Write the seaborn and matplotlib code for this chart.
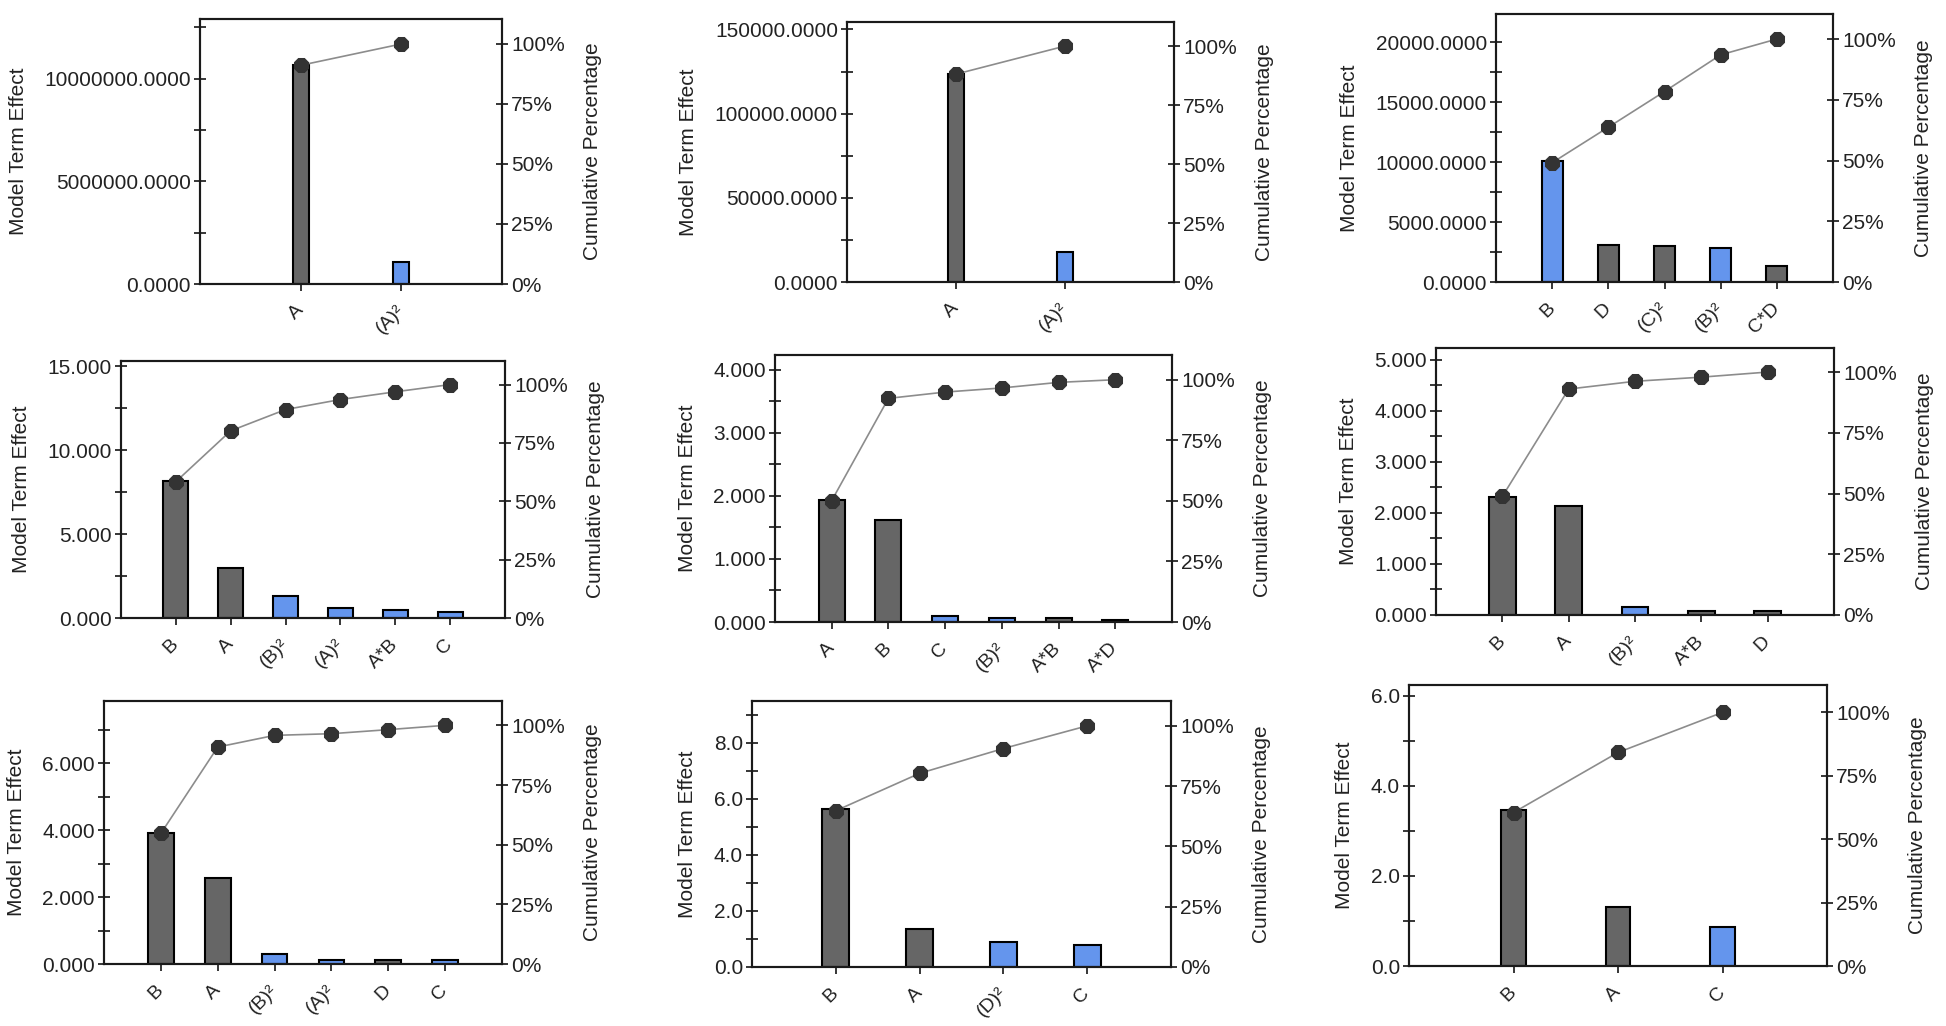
import numpy as np
import matplotlib
matplotlib.use("Agg")
import matplotlib.pyplot as plt
from matplotlib.ticker import MultipleLocator, FormatStrFormatter
import seaborn as sns

# values (bar = model term effect, dot = cumulative %)
terms_1 = ["A", "(A)²"]
effect_1 = [10680000, 1070000]
cum_1 = [91.1, 100]
shade_1 = ["grey", "blue"]

terms_2 = ["A", "(A)²"]
effect_2 = [123500, 17800]
cum_2 = [88.1, 100]
shade_2 = ["grey", "blue"]

terms_3 = ["B", "D", "(C)²", "(B)²", "C*D"]
effect_3 = [10070, 3120, 2985, 2845, 1340]
cum_3 = [49.1, 63.7, 78.4, 93.5, 100]
shade_3 = ["blue", "grey", "grey", "blue", "grey"]

terms_4 = ["B", "A", "(B)²", "(A)²", "A*B", "C"]
effect_4 = [8.18, 3.01, 1.29, 0.59, 0.48, 0.34]
cum_4 = [58.4, 80.2, 89.3, 93.6, 96.9, 100]
shade_4 = ["grey", "grey", "blue", "blue", "blue", "blue"]

terms_5 = ["A", "B", "C", "(B)²", "A*B", "A*D"]
effect_5 = [1.94, 1.62, 0.095, 0.07, 0.07, 0.035]
cum_5 = [50.1, 92.3, 94.9, 96.6, 98.9, 100]
shade_5 = ["grey", "grey", "blue", "blue", "grey", "grey"]

terms_6 = ["B", "A", "(B)²", "A*B", "D"]
effect_6 = [2.32, 2.13, 0.157, 0.08, 0.08]
cum_6 = [48.8, 93.0, 96.2, 97.9, 100]
shade_6 = ["grey", "grey", "blue", "grey", "grey"]

terms_7 = ["B", "A", "(B)²", "(A)²", "D", "C"]
effect_7 = [3.93, 2.57, 0.30, 0.12, 0.12, 0.12]
cum_7 = [54.7, 90.9, 95.8, 96.5, 98.2, 100]
shade_7 = ["grey", "grey", "blue", "blue", "grey", "blue"]

terms_8 = ["B", "A", "(D)²", "C"]
effect_8 = [5.63, 1.35, 0.91, 0.77]
cum_8 = [64.8, 80.3, 90.6, 100]
shade_8 = ["grey", "grey", "blue", "blue"]

terms_9 = ["B", "A", "C"]
effect_9 = [3.46, 1.30, 0.87]
cum_9 = [60.5, 84.2, 100]
shade_9 = ["grey", "grey", "blue"]

sns.set_style("white")
plt.rcParams["font.family"] = ["Liberation Sans", "DejaVu Sans"]

GREY = "#666666"
BLUE = "#6495ED"
INK = "#222222"

W, H = 1946, 1026
# box in pixels (x0, y0, x1, y1), left ymax, right ymax, major, minor, format, bar width
panels = [
    (terms_1, effect_1, cum_1, shade_1, (200, 19, 502, 284), 12.9e6, 110.4, 5e6, 2.5e6, "%.4f", 0.16),
    (terms_2, effect_2, cum_2, shade_2, (847, 22, 1174, 282), 154400, 110.2, 50000, 25000, "%.4f", 0.15),
    (terms_3, effect_3, cum_3, shade_3, (1496, 14, 1833, 282), 22365, 110.3, 5000, 2500, "%.4f", 0.37),
    (terms_4, effect_4, cum_4, shade_4, (121, 361, 505, 618), 15.32, 110.1, 5, 2.5, "%.3f", 0.46),
    (terms_5, effect_5, cum_5, shade_5, (775, 355, 1172, 622), 4.23, 110.2, 1, 0.5, "%.3f", 0.46),
    (terms_6, effect_6, cum_6, shade_6, (1436, 348, 1834, 615), 5.23, 109.9, 1, 0.5, "%.3f", 0.40),
    (terms_7, effect_7, cum_7, shade_7, (104, 701, 502, 964), 7.87, 110.2, 2, 1, "%.3f", 0.45),
    (terms_8, effect_8, cum_8, shade_8, (752, 701, 1171, 967), 9.5, 110.3, 2, 1, "%.1f", 0.32),
    (terms_9, effect_9, cum_9, shade_9, (1409, 685, 1827, 966), 6.24, 110.8, 2, 1, "%.1f", 0.23),
]

fig = plt.figure(figsize=(W / 100, H / 100), dpi=100)

for terms, eff, cum, shade, box, ymax, rmax, major, minor, fmt, bw in panels:
    x0, y0, x1, y1 = box
    ax = fig.add_axes([x0 / W, 1 - y1 / H, (x1 - x0) / W, (y1 - y0) / H])
    pal = {t: (BLUE if s == "blue" else GREY) for t, s in zip(terms, shade)}
    sns.barplot(x=terms, y=eff, hue=terms, palette=pal, width=bw, saturation=1,
                edgecolor="black", linewidth=1.5, legend=False, ax=ax)
    n = len(terms)
    pos = np.arange(n)
    ax.set_xlim(-1, n)
    ax.set_ylim(0, ymax)
    ax.yaxis.set_major_locator(MultipleLocator(major))
    ax.yaxis.set_minor_locator(MultipleLocator(minor))
    ax.yaxis.set_major_formatter(FormatStrFormatter(fmt))
    ax.set_xticks(pos)
    ax.set_xticklabels(terms, rotation=45, ha="right", va="center",
                       rotation_mode="anchor", fontsize=14, color=INK)
    ax.tick_params(axis="y", which="both", direction="inout", length=9, width=1.3,
                   labelsize=15, labelcolor=INK, left=True, pad=2)
    ax.tick_params(axis="x", direction="out", length=5, width=1.3, bottom=True, pad=12)
    ax.set_ylabel("Model Term Effect", fontsize=15, color=INK, labelpad=12)
    ax.set_xlabel("")

    ax2 = ax.twinx()
    sns.lineplot(x=pos, y=cum, ax=ax2, color="#8c8c8c", linewidth=1.2,
                 marker="8", markersize=11, markerfacecolor="#333333",
                 markeredgecolor="#333333", zorder=5)
    ax2.set_ylim(0, rmax)
    ax2.set_xlim(-1, n)
    ax2.set_yticks([0, 25, 50, 75, 100])
    ax2.set_yticklabels(["0%", "25%", "50%", "75%", "100%"])
    ax2.tick_params(axis="y", direction="inout", length=9, width=1.3, labelsize=15,
                    labelcolor=INK, right=True, pad=2)
    ax2.set_ylabel("Cumulative Percentage", fontsize=15, color=INK, labelpad=13)

    for a in (ax, ax2):
        for sp in a.spines.values():
            sp.set_visible(True)
            sp.set_linewidth(1.5)
            sp.set_color("#1a1a1a")

fig.savefig("out.png", dpi=100, facecolor="white")
